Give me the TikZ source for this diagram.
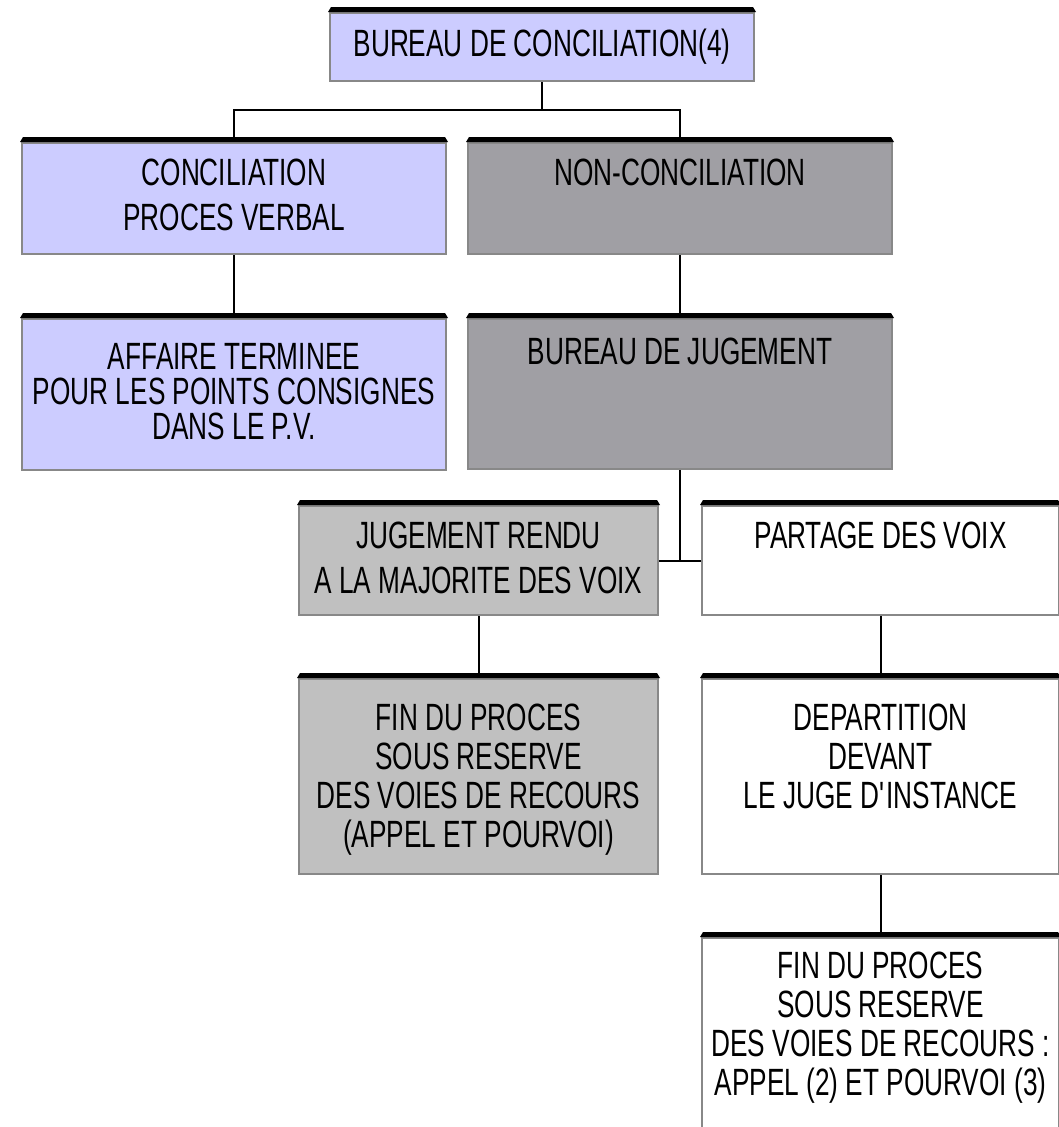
\documentclass[tikz,border=0pt]{standalone}
\usepackage{fontspec}
\setmainfont{Liberation Sans}[FakeStretch=0.69]
\usetikzlibrary{positioning}

\definecolor{lavender}{RGB}{204,204,255}
\definecolor{darkbox}{RGB}{160,159,164}
\definecolor{lightbox}{RGB}{192,192,192}
\definecolor{rim}{RGB}{136,136,136}

\begin{document}
\begin{tikzpicture}[x=1pt,y=-1pt]
	\tikzset{
		orgbox/.style={draw=rim, line width=2pt, anchor=north west, inner sep=0pt, fill=#1},
		orgtext/.style={font=\fontsize{38}{#1}\selectfont, align=center, inner sep=0pt},
		orgtext/.default=45,
		link/.style={draw=black, line width=2pt}
	}
	\useasboundingbox (0,0) rectangle (1059,1127);

	% boxes
	\node[orgbox=lavender, minimum width=424pt, minimum height=68pt] (bc) at (329,12) {};
	\node[orgbox=lavender, minimum width=424pt, minimum height=111pt] (conc) at (21,142) {};
	\node[orgbox=darkbox, minimum width=424pt, minimum height=111pt] (nonc) at (467,142) {};
	\node[orgbox=lavender, minimum width=424pt, minimum height=151pt] (aff) at (21,318) {};
	\node[orgbox=darkbox, minimum width=424pt, minimum height=150pt] (bj) at (467,318) {};
	\node[orgbox=lightbox, minimum width=359pt, minimum height=109pt] (jr) at (298,505) {};
	\node[orgbox=white, minimum width=357pt, minimum height=109pt] (pv) at (701,505) {};
	\node[orgbox=lightbox, minimum width=359pt, minimum height=195pt] (fin1) at (298,678) {};
	\node[orgbox=white, minimum width=357pt, minimum height=195pt] (dep) at (701,678) {};
	\node[orgbox=white, minimum width=357pt, minimum height=230pt] (fin2) at (701,937) {};

	% black top bands
	\foreach \b in {bc,conc,nonc,aff,bj,jr,pv,fin1,dep,fin2}
		\fill ([xshift=-1pt]\b.north west) -- ([shift={(2pt,5pt)}]\b.north west)
			-- ([shift={(-2pt,5pt)}]\b.north east) -- ([xshift=1pt]\b.north east) -- cycle;

	% texts
	\node[orgtext] (bctxt) at (bc.center) {BUREAU DE CONCILIATION(4)};
	\node[orgtext, below=17pt of conc.north] (conctxt) {CONCILIATION\\PROCES VERBAL};
	\node[orgtext, below=17pt of nonc.north] (nonctxt) {NON-CONCILIATION};
	\node[orgtext=35, below=25pt of aff.north] (afftxt) {AFFAIRE TERMINEE\\POUR LES POINTS CONSIGNES\\DANS LE P.V.};
	\node[orgtext, below=20pt of bj.north] (bjtxt) {BUREAU DE JUGEMENT};
	\node[orgtext, below=17pt of jr.north] (jrtxt) {JUGEMENT RENDU\\A LA MAJORITE DES VOIX};
	\node[orgtext, below=17pt of pv.north] (pvtxt) {PARTAGE DES VOIX};
	\node[orgtext=39, below=26pt of fin1.north] (fin1txt) {FIN DU PROCES\\SOUS RESERVE\\DES VOIES DE RECOURS\\(APPEL ET POURVOI)};
	\node[orgtext=39, below=26pt of dep.north] (deptxt) {DEPARTITION\\DEVANT\\LE JUGE D\textquotesingle INSTANCE};
	\node[orgtext=39, below=15pt of fin2.north] (fin2txt) {FIN DU PROCES\\SOUS RESERVE\\DES VOIES DE RECOURS :\\APPEL (2) ET POURVOI (3)};

	% connectors
	\coordinate (split) at ([yshift=-28pt]bc.south);
	\coordinate (join) at (bj.south |- jr.east);
	\draw[link] (bc.south) -- (split);
	\draw[link] (split) -| ([yshift=5pt]conc.north);
	\draw[link] (split) -| ([yshift=5pt]nonc.north);
	\draw[link] (conc.south) -- ([yshift=5pt]aff.north);
	\draw[link] (nonc.south) -- ([yshift=5pt]bj.north);
	\draw[link] (bj.south) -- (join);
	\draw[link] (jr.east) -- (pv.west);
	\draw[link] (jr.south) -- ([yshift=5pt]fin1.north);
	\draw[link] (pv.south) -- ([yshift=5pt]dep.north);
	\draw[link] (dep.south) -- ([yshift=5pt]fin2.north);
\end{tikzpicture}
\end{document}
